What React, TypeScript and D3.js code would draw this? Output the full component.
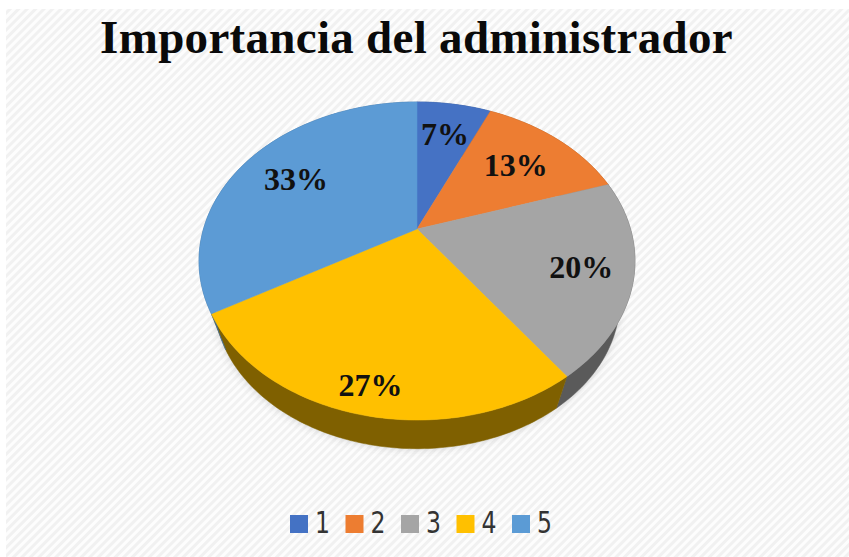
import * as d3 from "d3";

const categories = ["1", "2", "3", "4", "5"];
const values = [1, 2, 3, 4, 5];
const colors = ["#4472c4", "#ed7d31", "#a5a5a5", "#ffc000", "#5b9bd5"];
const sideColors = ["#2f4f88", "#a35622", "#5a5a5a", "#7f6000", "#3e6b94"];
const title = "Importancia del administrador";

const width = 849;
const height = 557;

// Pie lies on a tilted plane, so the hub sits above the middle of the ellipse.
const cx = 417;
const cy = 229;
const rx = 213.5;
const ry = 152.6;
const tilt = 0.2013;
// the lower rim is further from the camera, hence a little narrower
const rimScale = 0.93;
const rimDrop = 42;

// how far out along each slice's mid angle the label sits
const labelRadius = [0.72, 0.68, 0.77, 0.87, 0.7];

function project(angle: number, r = 1): [number, number] {
  const X = r * Math.sin(angle);
  const Y = -r * Math.cos(angle);
  const w = 1 - tilt * Y;
  return [cx + (rx * X) / w, cy + (ry * Y) / w];
}

function rim(angle: number): [number, number] {
  const [x, y] = project(angle);
  return [cx + (x - cx) * rimScale, cy + (y - cy) * rimScale + rimDrop];
}

function sweep(a0: number, a1: number): number[] {
  const n = Math.max(2, Math.ceil((a1 - a0) / 0.02));
  return d3.range(n + 1).map((i) => a0 + ((a1 - a0) * i) / n);
}

export default function App() {
  const total = d3.sum(values);
  const arcs = d3.pie<number>().sort(null)(values);
  const line = d3.line();
  const pct = d3.format(".0%");

  const legendX = d3.scalePoint<string>().domain(categories).range([290, 512]);

  return (
    <svg
      width={width}
      height={height}
      viewBox={`0 0 ${width} ${height}`}
      style={{ position: "absolute", left: 0, top: 0, display: "block" }}
    >
      <defs>
        <pattern
          id="hatch"
          width="6"
          height="6"
          patternUnits="userSpaceOnUse"
          patternTransform="rotate(45)"
        >
          <rect width="6" height="6" fill="#fdfdfd" />
          <rect width="3" height="6" fill="#f1f1f1" />
        </pattern>
        <filter id="soft" x="-5%" y="-5%" width="110%" height="110%">
          <feGaussianBlur stdDeviation="0.5" />
        </filter>
        <filter id="shadow" x="-10%" y="-10%" width="120%" height="120%">
          <feGaussianBlur stdDeviation="4" />
        </filter>
      </defs>
      <rect width={width} height={height} fill="#fff" />
      <rect x={6} y={9} width={width - 6} height={height - 9} fill="url(#hatch)" />

      <text
        x={416.5}
        y={53}
        textAnchor="middle"
        fontFamily="'Liberation Serif', serif"
        fontWeight="bold"
        fontSize={47}
        letterSpacing={0.3}
        fill="#0a0a0a"
      >
        {title}
      </text>

      <g filter="url(#soft)">
        <path
          d={line(sweep(0, 2 * Math.PI).map(rim)) + "Z"}
          fill="#777"
          opacity={0.3}
          filter="url(#shadow)"
        />
        {arcs.map((d, i) => {
          const ts = sweep(d.startAngle, d.endAngle);
          const pts = [...ts.map((t) => project(t)), ...ts.slice().reverse().map(rim)];
          return <path key={i} d={line(pts) + "Z"} fill={sideColors[i]} stroke={sideColors[i]} strokeWidth={0.5} />;
        })}
        {arcs.map((d, i) => {
          const pts = [[cx, cy] as [number, number], ...sweep(d.startAngle, d.endAngle).map((t) => project(t))];
          return <path key={i} d={line(pts) + "Z"} fill={colors[i]} stroke={colors[i]} strokeWidth={0.5} />;
        })}
      </g>

      {arcs.map((d, i) => {
        const [x, y] = project((d.startAngle + d.endAngle) / 2, labelRadius[i]);
        return (
          <text
            key={i}
            x={x}
            y={y}
            dy="0.33em"
            textAnchor="middle"
            fontFamily="'Liberation Serif', serif"
            fontWeight="bold"
            fontSize={32}
            fill="#111"
          >
            {pct(d.value / total)}
          </text>
        );
      })}

      {categories.map((c, i) => {
        const x = legendX(c) as number;
        return (
          <g key={c}>
            <rect x={x} y={515} width={18} height={18} fill={colors[i]} />
            <text
              x={x + 25}
              y={533}
              fontFamily="'DejaVu Sans', sans-serif"
              fontSize={30}
              fill="#333"
              textLength={15}
              lengthAdjust="spacingAndGlyphs"
            >
              {c}
            </text>
          </g>
        );
      })}
    </svg>
  );
}
